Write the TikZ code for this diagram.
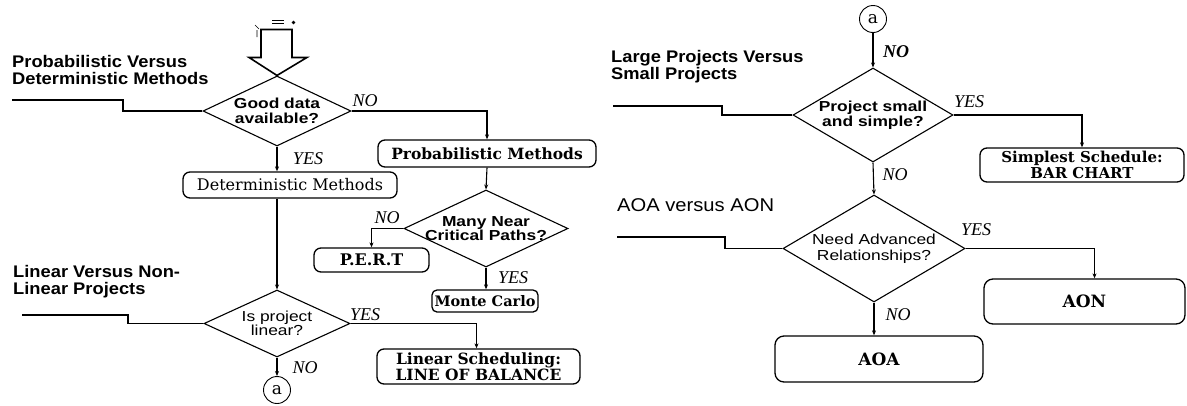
\documentclass[tikz,border=0pt]{standalone}
\usepackage{fontspec}
\usetikzlibrary{shapes.geometric,arrows.meta}
\newfontfamily\headfont[FakeStretch=1.09]{Liberation Sans}
\newfontfamily\dfont[FakeStretch=1.2]{Liberation Sans}
\newfontfamily\boxfont{DejaVu Serif}
\newfontfamily\lblfont{Liberation Serif}
\tikzset{
  heading/.style={anchor=north west, inner sep=0pt, align=left, font=\headfont\bfseries\fontsize{16.8}{17}\selectfont},
  dshape/.style={draw, diamond, inner sep=0pt, line width=1.1pt},
  dtext/.style={align=center, inner sep=0pt, font=\dfont\fontsize{14.5}{14.5}\selectfont},
  dtextb/.style={dtext, font=\dfont\bfseries\fontsize{14.5}{14.5}\selectfont},
  rbox/.style={draw, rounded corners=7pt, line width=1.3pt, inner sep=0pt, align=center},
  lbl/.style={inner sep=0pt, font=\lblfont\itshape\fontsize{18}{18}\selectfont},
  lblb/.style={inner sep=0pt, font=\lblfont\bfseries\itshape\fontsize{18}{18}\selectfont},
  arr/.style={line width=1.1pt, -{Stealth[length=5pt,width=4pt]}},
  conn2/.style={line width=1.3pt},
  circ/.style={draw, circle, minimum size=27pt, inner sep=0pt, line width=0.9pt, font=\boxfont\fontsize{17}{17}\selectfont},
  hollow/.style={draw, fill=white, line width=1.6pt, line join=miter},
}
\begin{document}
\begin{tikzpicture}[x=1pt,y=-1pt]
\useasboundingbox[fill=white] (0,0) rectangle (1187,405);

% ---------- headings ----------
\node[heading] (h1) at (12,55) {Probabilistic Versus\\Deterministic Methods};
\node[heading] (h2) at (13,265) {Linear Versus Non-\\Linear Projects};
\node[heading] (h3) at (611,50) {Large Projects Versus\\Small Projects};
\node[heading, font=\headfont\fontsize{18.5}{18.5}\selectfont] (h4) at (617,198) {AOA versus AON};

% ---------- diamonds ----------
\node[dshape, minimum width=148pt, minimum height=70pt] (d1) at (277,111) {};
\node[dtextb] (d1t) at (d1) {Good data\\available?};
\node[dshape, minimum width=164pt, minimum height=77pt] (d2) at (486,228.5) {};
\node[dtextb] (d2t) at (d2) {Many Near\\Critical Paths?};
\node[dshape, minimum width=146pt, minimum height=67pt] (d3) at (277,323.5) {};
\node[dtext] (d3t) at (d3) {Is project\\linear?};
\node[dshape, minimum width=160pt, minimum height=94pt] (d4) at (873,115) {};
\node[dtextb] (d4t) at (d4) {Project small\\and simple?};
\node[dshape, minimum width=182pt, minimum height=107pt] (d5) at (874,248.5) {};
\node[dtext, font=\dfont\fontsize{14.5}{16.5}\selectfont] (d5t) at (d5) {Need Advanced\\Relationships?};

% ---------- boxes ----------
\node[rbox, minimum width=218pt, minimum height=27pt, font=\boxfont\bfseries\fontsize{15.5}{16}\selectfont] (prob) at (487,153.5) {Probabilistic Methods};
\node[rbox, minimum width=214pt, minimum height=26pt, font=\boxfont\fontsize{16}{16}\selectfont] (det) at (290,185) {Deterministic Methods};
\node[rbox, minimum width=115pt, minimum height=24pt, font=\boxfont\bfseries\fontsize{16}{16}\selectfont] (pert) at (371.5,260) {P.E.R.T};
\node[rbox, minimum width=106pt, minimum height=22pt, rounded corners=5pt, font=\boxfont\bfseries\fontsize{14.5}{14.5}\selectfont] (monte) at (485,301) {Monte Carlo};
\node[rbox, minimum width=203pt, minimum height=35pt, font=\boxfont\bfseries\fontsize{15.5}{16}\selectfont] (lob) at (478.5,366.5) {Linear Scheduling:\\LINE OF BALANCE};
\node[rbox, minimum width=204pt, minimum height=34pt, font=\boxfont\bfseries\fontsize{15}{16}\selectfont] (bar) at (1082,165) {Simplest Schedule:\\BAR CHART};
\node[rbox, minimum width=201pt, minimum height=45pt, rounded corners=9pt, font=\boxfont\bfseries\fontsize{17}{17}\selectfont] (aon) at (1084.5,301.5) {AON};
\node[rbox, minimum width=208pt, minimum height=46pt, rounded corners=9pt, font=\boxfont\bfseries\fontsize{17}{17}\selectfont] (aoa) at (879,359) {AOA};

% ---------- connector circles ----------
\node[circ] (a1) at (277,390) {a};
\node[circ] (a2) at (873,19) {a};

% ---------- hollow entry arrow ----------
\draw[hollow] (d1.north) -- ++(-28,-18) -- ++(12,0) -- ++(0,-28) -- ++(31,0) -- ++(0,28) -- ++(15,0) -- cycle;
\draw[line width=0.6pt] (272,20.5) -- (284,20.5) (272,23.5) -- (284,23.5);
\fill (293.5,22.5) circle (1.8pt);
\draw[line width=0.6pt] (255,25) -- (259,29) (257,30) -- (257,37);

% ---------- entry stubs ----------
\coordinate (s1a) at (12,100); \coordinate (s1b) at (123,100);
\draw[conn2] (s1a) -- (s1b) |- (d1.west);
\coordinate (s3a) at (22,315); \coordinate (s3b) at (128,315);
\draw[conn2] (s3a) -- (s3b) |- (d3.west);
\coordinate (s4a) at (613,106); \coordinate (s4b) at (722,106);
\draw[conn2] (s4a) -- (s4b) |- (d4.west);
\coordinate (s5a) at (617,237); \coordinate (s5b) at (725,237);
\draw[conn2] (s5a) -- (s5b) |- (d5.west);

% ---------- connectors ----------
\draw[arr] (d1.south) -- (d1.south |- det.north);
\draw[arr] (d1.east) -| (prob.north);
\draw[arr] (prob.south) -- (d2.north);
\draw[arr] (d2.west) -| (pert.north);
\draw[arr] (d2.south) -- (d2.south |- monte.north);
\draw[arr] (det.south -| d3.north) -- (d3.north);
\draw[arr] (d3.east) -| ([xshift=-2pt]lob.north);
\draw[arr] (d3.south) -- (a1.north);
\draw[arr] (a2.south) -- (d4.north);
\draw[arr] (d4.east) -| (bar.north);
\draw[arr] (d4.south) -- (d5.north);
\draw[arr] (d5.east) -| ([xshift=10pt]aon.north);
\draw[arr] (d5.south) -- (d5.south |- aoa.north);

% ---------- branch labels ----------
\node[lbl] (l1) at (365,101) {NO};
\node[lbl] (l2) at (308,159) {YES};
\node[lbl] (l3) at (387,218) {NO};
\node[lbl] (l4) at (513,278) {YES};
\node[lbl] (l5) at (365,315) {YES};
\node[lbl] (l6) at (305,368) {NO};
\node[lblb] (l7) at (896,52) {NO};
\node[lbl] (l8) at (969,102) {YES};
\node[lbl] (l9) at (895,175) {NO};
\node[lbl] (l10) at (976,230) {YES};
\node[lbl] (l11) at (898,315) {NO};
\end{tikzpicture}
\end{document}
